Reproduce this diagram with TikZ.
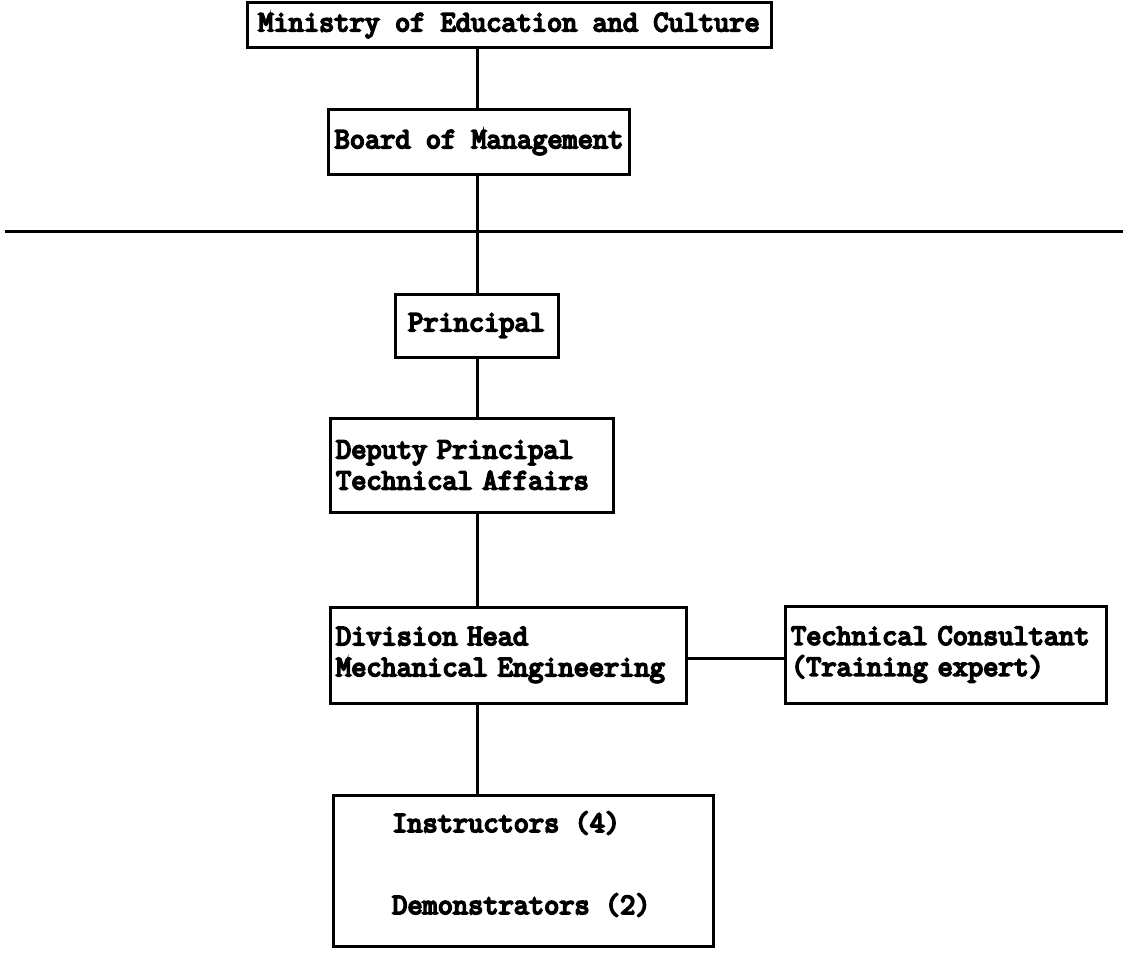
\documentclass[tikz,border=0pt]{standalone}
\usepackage{fontspec}
\newfontfamily\tw[FakeBold=6]{Latin Modern Mono}
\tikzset{
  txt/.style={font=\tw\fontsize{29.5}{31}\selectfont},
  box/.style={draw, line width=3pt, inner xsep=6pt, inner ysep=0pt, txt},
  lbl/.style={inner sep=0pt, anchor=west, txt},
  link/.style={line width=3pt}
}
\begin{document}
\begin{tikzpicture}[x=1pt,y=-1pt]
\useasboundingbox (0,0) rectangle (1123,952);
\coordinate (spine) at (477,0);
\node[box, minimum width=524pt, minimum height=45pt, align=center] (min) at (509,25.5) {Ministry of Education and Culture};
\node[box, minimum width=298pt, minimum height=65pt, align=center] (board) at (479,142.5) {Board of Management};
\node[box, minimum width=163pt, minimum height=63pt, align=center] (prin) at (476.5,325.5) {Principal};
\node[box, text width=271pt, minimum height=94pt, align=left] (dep) at (471.5,465) {Deputy Principal\\Technical Affairs};
\node[box, text width=344pt, minimum height=96pt, align=left] (div) at (508,655) {Division Head\\Mechanical Engineering};
\node[box, text width=309pt, minimum height=97pt, align=left] (cons) at (945.5,654.5) {Technical Consultant\\(Training expert)};
\node[box, minimum width=380pt, minimum height=151pt] (inst) at (523,870.5) {};
\node[lbl] (i1) at (392,823) {Instructors (4)};
\node[lbl] (i2) at (392,905) {Demonstrators (2)};
\coordinate (hl) at (5,231);
\coordinate (hr) at (1123,231);
\draw[link] (hl) -- (hr);
\draw[link] (min.south -| spine) -- (board.north -| spine);
\draw[link] (board.south -| spine) -- (prin.north -| spine);
\draw[link] (prin.south -| spine) -- (dep.north -| spine);
\draw[link] (dep.south -| spine) -- (div.north -| spine);
\draw[link] (div.south -| spine) -- (inst.north -| spine);
\coordinate (cy) at (0,658);
\draw[link] (div.east |- cy) -- (cons.west |- cy);
\end{tikzpicture}
\end{document}
